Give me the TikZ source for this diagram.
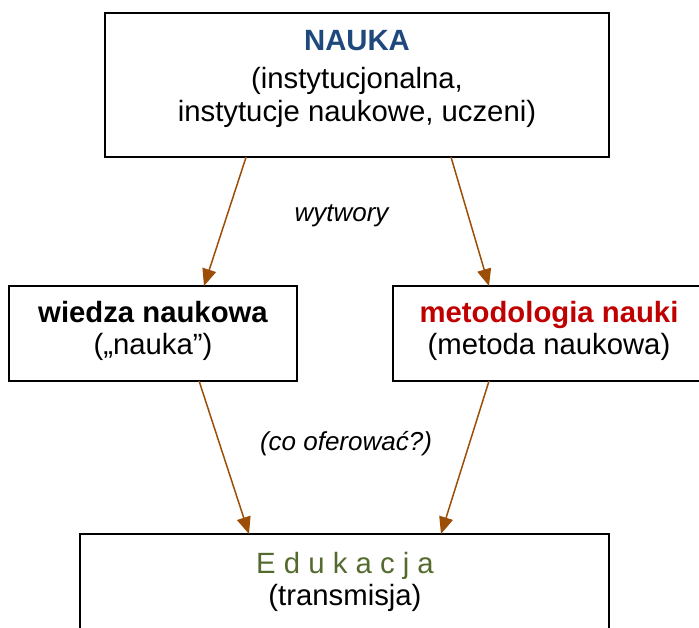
\documentclass[tikz,border=0pt]{standalone}
\usepackage{fontspec}
\setmainfont{Liberation Sans}
\usetikzlibrary{arrows.meta,calc}
\definecolor{naukablue}{RGB}{31,73,125}
\definecolor{metred}{RGB}{192,0,0}
\definecolor{edugreen}{RGB}{84,106,46}
\definecolor{arrbrown}{RGB}{156,78,6}
\tikzset{
  box/.style={draw=black, line width=2pt, fill=none, inner sep=0pt, outer sep=0pt},
  txt/.style={anchor=base, inner sep=0pt, font=\fontsize{29.3}{32}\selectfont},
  lbl/.style={anchor=base, inner sep=0pt, font=\fontsize{26}{30}\selectfont\itshape},
  arr/.style={draw=arrbrown, line width=1.5pt, -{Triangle[length=17pt,width=14pt]}}
}
\begin{document}
\begin{tikzpicture}[x=1pt,y=-1pt]
\useasboundingbox (0,0) rectangle (699,628);
% boxes
\node[box, minimum width=504pt, minimum height=144pt] (nauka) at (357,85) {};
\node[box, minimum width=288pt, minimum height=95pt] (wiedza) at (153,333.5) {};
\node[box, minimum width=312pt, minimum height=95pt] (metod) at (549,333.5) {};
\node[box, minimum width=529pt, minimum height=116pt] (edu) at (344.5,592) {};
% texts
\node[txt, text=naukablue, font=\fontsize{29.3}{32}\selectfont\bfseries] (t1) at (357,51) {NAUKA};
\node[txt] (t2) at (357,89) {(instytucjonalna,};
\node[txt] (t3) at (357,121.5) {instytucje naukowe, uczeni)};
\node[txt, font=\fontsize{29.3}{32}\selectfont\bfseries] (w1) at (153,323) {wiedza naukowa};
\node[txt] (w2) at (153,355) {(„nauka”)};
\node[txt, text=metred, font=\fontsize{29.3}{32}\selectfont\bfseries] (m1) at (549,323) {metodologia nauki};
\node[txt] (m2) at (549,355) {(metoda naukowa)};
\node[txt, text=edugreen] (e1) at (345,573) {E d u k a c j a};
\node[txt] (e2) at (345,605) {(transmisja)};
\node[lbl] (wyt) at (341.5,221.7) {wytwory};
\node[lbl] (co) at (346,450) {(co oferować?)};
% arrows
\draw[arr] ($(nauka.south west)!0.28!(nauka.south east)$) -- ($(wiedza.north west)!0.677!(wiedza.north east)$);
\draw[arr] ($(nauka.south west)!0.6865!(nauka.south east)$) -- ($(metod.north west)!0.3077!(metod.north east)$);
\draw[arr] ($(wiedza.south west)!0.66!(wiedza.south east)$) -- ($(edu.north west)!0.3195!(edu.north east)$);
\draw[arr] ($(metod.south west)!0.3077!(metod.south east)$) -- ($(edu.north west)!0.6824!(edu.north east)$);
\end{tikzpicture}
\end{document}
